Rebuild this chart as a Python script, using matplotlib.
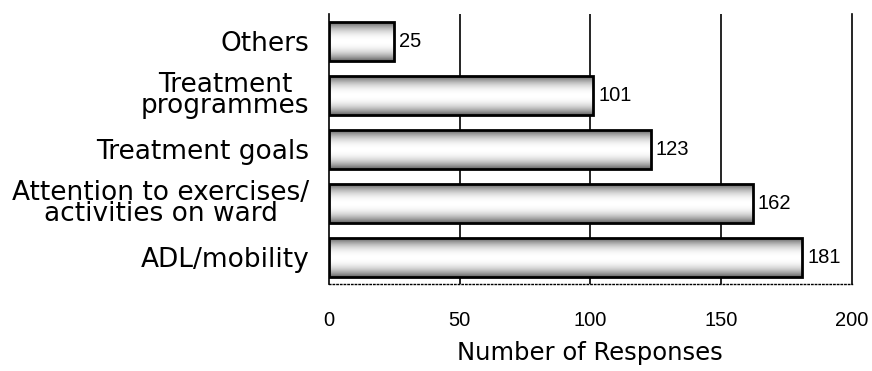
import numpy as np
import matplotlib.pyplot as plt

categories = ['ADL/mobility', 'Attention to exercises/\nactivities on ward',
              'Treatment goals', 'Treatment\nprogrammes', 'Others']
responses = [181, 162, 123, 101, 25]
xticks = [0, 50, 100, 150, 200]

numfont = 'Liberation Sans'

fig = plt.figure(figsize=(8.72, 3.71), dpi=100)
ax = fig.add_axes([0.377, 0.234, 0.6, 0.728])

h = 0.72
ypos = np.arange(len(categories))

# gray-white-gray shading inside each bar
grad = np.abs(np.linspace(-1, 1, 40)) ** 2.2
grad = 1 - 0.6 * grad
img = np.tile(grad[:, None], (1, 2))
for y, v in zip(ypos, responses):
    ax.imshow(img, cmap='gray', vmin=0, vmax=1, aspect='auto',
              extent=(0, v, y - h / 2, y + h / 2), zorder=2, interpolation='bilinear')

ax.barh(ypos, responses, height=h, facecolor='none', edgecolor='black', linewidth=2, zorder=3)

for y, v in zip(ypos, responses):
    ax.text(v + 2, y, str(v), va='center', ha='left', fontsize=14.5,
            family=numfont, zorder=4)

for g in [50, 100, 150]:
    ax.axvline(g, color='black', linewidth=1.2, zorder=1)

ax.set_xlim(0, 200)
ax.set_ylim(-0.5, 4.5)
ax.set_yticks(ypos)
ax.set_yticklabels(categories, fontsize=19, multialignment='center', linespacing=0.75)
ax.set_xticks(xticks)
ax.set_xticklabels([str(t) for t in xticks], fontsize=14.5, family=numfont)
ax.tick_params(axis='y', length=0, pad=14)
ax.tick_params(axis='x', length=0, pad=19)
ax.set_xlabel('Number of Responses', fontsize=17.5, labelpad=8)

ax.spines['top'].set_visible(False)
ax.spines['left'].set_linewidth(1.2)
ax.spines['right'].set_linewidth(1.2)
ax.spines['bottom'].set_linestyle(':')
ax.spines['bottom'].set_linewidth(1)

fig.savefig('out.png', dpi=100)
